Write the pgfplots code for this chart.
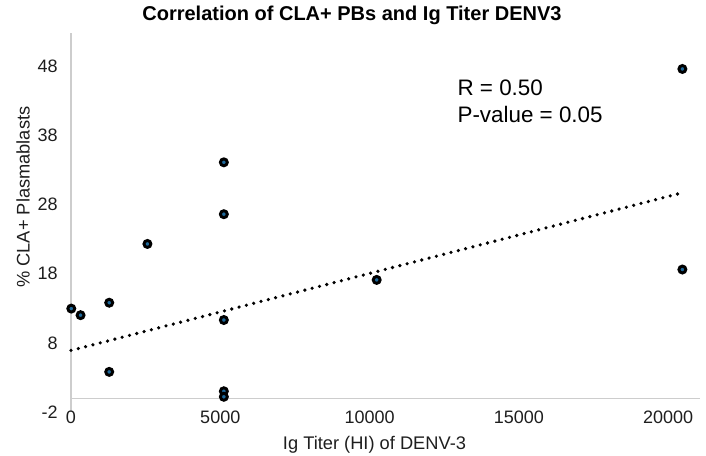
\documentclass[border=0pt]{standalone}
\usepackage{pgfplots}
\pgfplotsset{compat=1.18}
\usepackage{fontspec}
\setmainfont{Liberation Sans}
\definecolor{axisgray}{RGB}{205,205,205}
\definecolor{txt}{RGB}{30,30,30}
\definecolor{markblue}{RGB}{30,105,155}
\begin{document}
\begin{tikzpicture}
\useasboundingbox (-53.25pt,-33pt) rectangle (476.25pt,309pt);
\begin{axis}[
  at={(0,0)}, anchor=south west,
  scale only axis,
  width=471.75pt, height=284.25pt,
  xmin=0, xmax=21070, ymin=-2, ymax=52.8,
  axis lines=left,
  x axis line style={draw=none},
  y axis line style={draw=axisgray, line width=1pt, -},
  major tick length=0pt,
  xtick={0,5000,10000,15000,20000},
  ytick={-2,8,18,28,38,48},
  scaled x ticks=false,
  /pgf/number format/assume math mode=true,
  /pgf/number format/set thousands separator={},
  tick label style={font=\fontsize{13.5}{16}\selectfont, text=txt},
  xticklabel style={yshift=4.5pt},
  yticklabel style={xshift=-6.5pt},
  xlabel={Ig Titer (HI) of DENV-3},
  ylabel={\% CLA+ Plasmablasts},
  label style={font=\fontsize{13.7}{16}\selectfont, text=txt},
  xlabel style={at={(axis description cs:0.4825,-0.0984)}, anchor=base},
  ylabel style={at={(axis description cs:-0.0763,0.567)}, anchor=center},
  title={Correlation of CLA+ PBs and Ig Titer DENV3},
  title style={font=\bfseries\fontsize{15}{18}\selectfont, text=black, at={(axis description cs:0.4467,1.0106)}, anchor=base},
  clip=false,
]
\draw[axisgray, line width=1pt] (axis cs:0,0) -- (axis cs:21070,0);
\addplot[black, line width=2.7pt, line cap=round, dash pattern=on 0pt off 5.66pt]
  coordinates {(0,6.9) (20480,29.7)};
\addplot[only marks, mark=*, mark size=2.6pt,
  mark options={draw=black, fill=markblue, line width=2.2pt}]
  coordinates {
  (10,12.95) (320,12.0) (1280,13.8) (1280,3.8) (2560,22.3)
  (5120,34.1) (5120,26.6) (5120,11.3) (5120,1.0) (5120,0.2)
  (10240,17.1) (20480,47.6) (20480,18.6)
  };
\node[anchor=west, font=\fontsize{16.8}{19}\selectfont, text=black, inner sep=0pt] at (axis cs:12940,44.9) {R = 0.50};
\node[anchor=west, font=\fontsize{16.8}{19}\selectfont, text=black, inner sep=0pt] at (axis cs:12940,41.0) {P-value = 0.05};
\end{axis}
\end{tikzpicture}
\end{document}
